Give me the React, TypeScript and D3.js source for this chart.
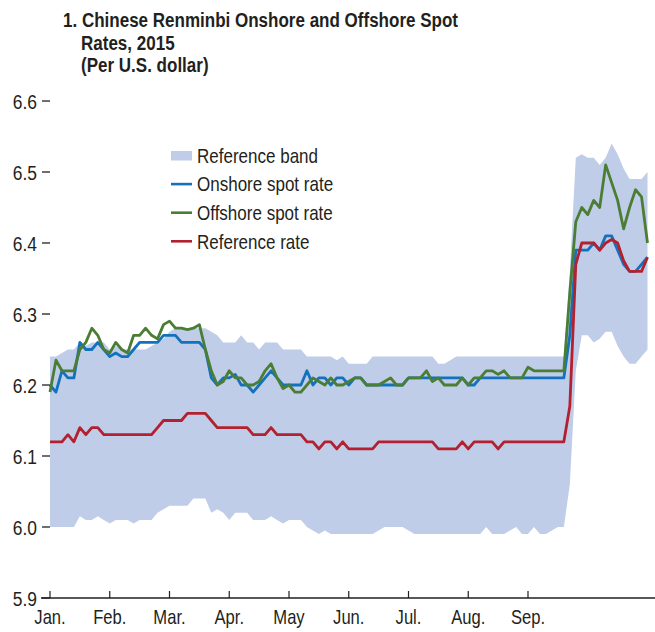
import * as d3 from "d3";

// x positions are tenths of a month: 0 = Jan., 10 = Feb., ... 80 = Sep.
const months = ["Jan.", "Feb.", "Mar.", "Apr.", "May", "Jun.", "Jul.", "Aug.", "Sep."];
const yTicks = [5.9, 6.0, 6.1, 6.2, 6.3, 6.4, 6.5, 6.6];

const onshore = [
  6.2, 6.19, 6.22, 6.21, 6.21, 6.26, 6.25, 6.25, 6.26, 6.25,
  6.24, 6.245, 6.24, 6.24, 6.25, 6.26, 6.26, 6.26, 6.26, 6.27,
  6.27, 6.27, 6.26, 6.26, 6.26, 6.26, 6.25, 6.21, 6.2, 6.21,
  6.21, 6.215, 6.2, 6.2, 6.19, 6.2, 6.21, 6.22, 6.21, 6.2,
  6.2, 6.2, 6.2, 6.22, 6.2, 6.21, 6.21, 6.2, 6.21, 6.21,
  6.2, 6.21, 6.21, 6.2, 6.2, 6.2, 6.2, 6.2, 6.2, 6.2,
  6.21, 6.21, 6.21, 6.21, 6.21, 6.21, 6.21, 6.21, 6.21, 6.21,
  6.2, 6.2, 6.21, 6.21, 6.21, 6.21, 6.21, 6.21, 6.21, 6.21,
  6.21, 6.21, 6.21, 6.21, 6.21, 6.21, 6.21, 6.27, 6.39, 6.39,
  6.39, 6.4, 6.39, 6.41, 6.41, 6.39, 6.37, 6.36, 6.36, 6.37, 6.38,
];

const offshore = [
  6.19, 6.235, 6.22, 6.22, 6.22, 6.25, 6.26, 6.28, 6.27, 6.25,
  6.245, 6.26, 6.25, 6.245, 6.27, 6.27, 6.28, 6.27, 6.265, 6.285,
  6.29, 6.28, 6.28, 6.278, 6.28, 6.285, 6.25, 6.22, 6.2, 6.205,
  6.22, 6.21, 6.21, 6.2, 6.2, 6.205, 6.22, 6.23, 6.21, 6.195,
  6.2, 6.19, 6.19, 6.2, 6.21, 6.205, 6.2, 6.21, 6.2, 6.2,
  6.205, 6.21, 6.21, 6.2, 6.2, 6.2, 6.205, 6.21, 6.2, 6.2,
  6.21, 6.21, 6.21, 6.22, 6.205, 6.21, 6.2, 6.2, 6.2, 6.21,
  6.2, 6.21, 6.21, 6.22, 6.22, 6.215, 6.22, 6.21, 6.21, 6.21,
  6.225, 6.22, 6.22, 6.22, 6.22, 6.22, 6.22, 6.33, 6.43, 6.45,
  6.44, 6.46, 6.45, 6.51, 6.485, 6.46, 6.42, 6.45, 6.475, 6.465, 6.4,
];

const reference = [
  6.12, 6.12, 6.12, 6.13, 6.12, 6.14, 6.13, 6.14, 6.14, 6.13,
  6.13, 6.13, 6.13, 6.13, 6.13, 6.13, 6.13, 6.13, 6.14, 6.15,
  6.15, 6.15, 6.15, 6.16, 6.16, 6.16, 6.16, 6.15, 6.14, 6.14,
  6.14, 6.14, 6.14, 6.14, 6.13, 6.13, 6.13, 6.14, 6.13, 6.13,
  6.13, 6.13, 6.13, 6.12, 6.12, 6.11, 6.12, 6.12, 6.11, 6.12,
  6.11, 6.11, 6.11, 6.11, 6.11, 6.12, 6.12, 6.12, 6.12, 6.12,
  6.12, 6.12, 6.12, 6.12, 6.12, 6.11, 6.11, 6.11, 6.11, 6.12,
  6.11, 6.12, 6.12, 6.12, 6.12, 6.11, 6.12, 6.12, 6.12, 6.12,
  6.12, 6.12, 6.12, 6.12, 6.12, 6.12, 6.12, 6.17, 6.37, 6.4,
  6.4, 6.4, 6.39, 6.4, 6.405, 6.4, 6.375, 6.36, 6.36, 6.36, 6.38,
];

const bandHigh = [
  6.24, 6.24, 6.245, 6.25, 6.25, 6.26, 6.255, 6.26, 6.26, 6.26,
  6.25, 6.255, 6.25, 6.25, 6.25, 6.25, 6.25, 6.255, 6.26, 6.265,
  6.275, 6.28, 6.28, 6.28, 6.28, 6.28, 6.28, 6.275, 6.27, 6.26,
  6.26, 6.26, 6.27, 6.26, 6.26, 6.25, 6.26, 6.26, 6.26, 6.25,
  6.25, 6.25, 6.25, 6.24, 6.24, 6.24, 6.24, 6.24, 6.235, 6.24,
  6.23, 6.23, 6.23, 6.23, 6.24, 6.24, 6.24, 6.24, 6.24, 6.24,
  6.24, 6.24, 6.24, 6.24, 6.24, 6.23, 6.23, 6.235, 6.24, 6.24,
  6.24, 6.24, 6.24, 6.24, 6.24, 6.24, 6.24, 6.24, 6.24, 6.24,
  6.24, 6.24, 6.24, 6.24, 6.24, 6.24, 6.24, 6.36, 6.52, 6.525,
  6.52, 6.52, 6.51, 6.52, 6.54, 6.525, 6.505, 6.49, 6.49, 6.49, 6.5,
];

const bandLow = [
  6.0, 6.0, 6.0, 6.0, 6.0, 6.015, 6.01, 6.01, 6.015, 6.01,
  6.005, 6.01, 6.01, 6.01, 6.005, 6.01, 6.01, 6.01, 6.02, 6.025,
  6.03, 6.03, 6.03, 6.03, 6.04, 6.04, 6.04, 6.02, 6.025, 6.02,
  6.01, 6.02, 6.02, 6.02, 6.01, 6.01, 6.01, 6.015, 6.01, 6.005,
  6.01, 6.01, 6.01, 6.0, 5.995, 5.99, 5.995, 5.99, 5.99, 5.99,
  5.99, 5.99, 5.99, 5.99, 5.99, 5.995, 6.0, 6.0, 6.0, 6.0,
  5.995, 5.99, 5.99, 5.99, 5.99, 5.99, 5.99, 5.99, 5.99, 5.99,
  5.99, 5.99, 5.99, 6.0, 5.99, 5.99, 5.99, 5.995, 6.0, 5.99,
  5.99, 6.0, 5.99, 5.99, 5.995, 6.0, 6.0, 6.06, 6.22, 6.27,
  6.27, 6.26, 6.265, 6.275, 6.275, 6.255, 6.24, 6.23, 6.23, 6.24, 6.25,
];

const legendItems = [
  { label: "Reference band", color: "#c0cde8", kind: "band" },
  { label: "Onshore spot rate", color: "#1372bc", kind: "line" },
  { label: "Offshore spot rate", color: "#4b7d35", kind: "line" },
  { label: "Reference rate", color: "#b3202f", kind: "line" },
];

const font = "'Liberation Sans', Arial, sans-serif";
const ink = "#231f20";
const squeeze = 0.83; // no condensed face installed, so narrow the sans horizontally

function NarrowText(props: {
  x: number;
  y: number;
  size: number;
  anchor?: string;
  weight?: string;
  dy?: string;
  children: any;
}) {
  const { x, y, size, anchor = "start", weight = "normal", dy, children } = props;
  return (
    <text
      transform={`translate(${x},${y}) scale(${squeeze},1)`}
      textAnchor={anchor}
      fontSize={size}
      fontWeight={weight}
      dy={dy}
      fill={ink}
    >
      {children}
    </text>
  );
}

export default function App() {
  const width = 655;
  const height = 632;

  const x = d3.scaleLinear().domain([0, 100]).range([50, 647.5]);
  const y = d3.scaleLinear().domain([5.9, 6.6]).range([598, 101]);

  const idx = d3.range(onshore.length);

  const line = (vals: number[]) =>
    d3
      .line<number>()
      .x((i) => x(i))
      .y((i) => y(vals[i]))(idx) || "";

  const band =
    d3
      .area<number>()
      .x((i) => x(i))
      .y0((i) => y(bandLow[i]))
      .y1((i) => y(bandHigh[i]))(idx) || "";

  const series = [
    { vals: onshore, color: legendItems[1].color },
    { vals: offshore, color: legendItems[2].color },
    { vals: reference, color: legendItems[3].color },
  ];

  return (
    <svg
      width={width}
      height={height}
      style={{ position: "absolute", left: 0, top: 0, background: "#fff" }}
      fontFamily={font}
    >
      {/* title */}
      <NarrowText x={63} y={27} size={20.5} weight="bold">
        1. Chinese Renminbi Onshore and Offshore Spot
      </NarrowText>
      <NarrowText x={81} y={50} size={20.5} weight="bold">
        Rates, 2015
      </NarrowText>
      <NarrowText x={81} y={72} size={20.5} weight="bold">
        (Per U.S. dollar)
      </NarrowText>

      {/* band + lines */}
      <path d={band} fill={legendItems[0].color} />
      {series.map((s, k) => (
        <path key={k} d={line(s.vals)} fill="none" stroke={s.color} strokeWidth={2.8} strokeLinejoin="round" />
      ))}

      {/* y axis ticks */}
      {yTicks.map((t) => (
        <g key={t}>
          <line x1={42} x2={50} y1={y(t)} y2={y(t)} stroke={ink} strokeWidth={1.3} />
          <NarrowText x={37} y={y(t)} dy="0.36em" size={21} anchor="end">
            {d3.format(".1f")(t)}
          </NarrowText>
        </g>
      ))}

      {/* x axis */}
      <line x1={41} x2={655} y1={y(5.9)} y2={y(5.9)} stroke={ink} strokeWidth={1.3} />
      {months.map((m, i) => (
        <g key={m}>
          <line x1={x(i * 10)} x2={x(i * 10)} y1={y(5.9)} y2={y(5.9) - 7} stroke={ink} strokeWidth={1.2} />
          <NarrowText x={x(i * 10)} y={624} size={20} anchor="middle">
            {m}
          </NarrowText>
        </g>
      ))}

      {/* legend */}
      {legendItems.map((d, i) => {
        const cy = 155.5 + i * 28.6;
        return (
          <g key={d.label}>
            {d.kind === "band" ? (
              <rect x={171} y={cy - 4.5} width={21} height={9.5} fill={d.color} />
            ) : (
              <line x1={171} x2={192} y1={cy} y2={cy} stroke={d.color} strokeWidth={2.6} />
            )}
            <NarrowText x={197} y={cy + 7.3} size={20.5}>
              {d.label}
            </NarrowText>
          </g>
        );
      })}
    </svg>
  );
}
